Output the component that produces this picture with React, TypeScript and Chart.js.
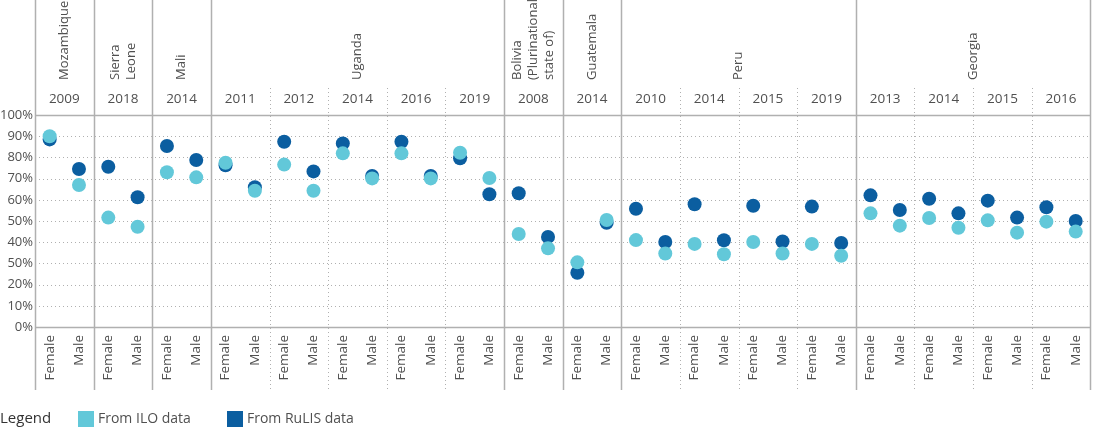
import React, { useEffect, useRef } from "react";
import { Chart, registerables } from "chart.js";

Chart.register(...registerables);

// ---- Data ----
const countryNames = [
  "Mozambique", "Sierra\nLeone", "Mali", "Uganda", "Uganda", "Uganda", "Uganda", "Uganda",
  "Bolivia\n(Plurinational\nstate of)", "Guatemala", "Peru", "Peru", "Peru", "Peru",
  "Georgia", "Georgia", "Georgia", "Georgia",
];
const years = [
  "2009", "2018", "2014", "2011", "2012", "2014", "2016", "2019",
  "2008", "2014", "2010", "2014", "2015", "2019", "2013", "2014", "2015", "2016",
];
const sexes = ["Female", "Male"];

const iloValues = [
  90, 67, 51.6, 47.3, 73, 70.6, 77.5, 64.3, 76.6, 64.3, 81.9, 70.1, 81.9, 70.1, 82.2, 70.3,
  43.9, 37.1, 30.5, 50.5, 41, 34.7, 39.2, 34.3, 40.1, 34.7, 39.2, 33.6,
  53.6, 47.8, 51.4, 46.8, 50.3, 44.5, 49.7, 45,
];
const rulisValues = [
  88.5, 74.5, 75.6, 61.2, 85.4, 78.8, 76.3, 65.9, 87.4, 73.4, 86.6, 71.2, 87.4, 71.2, 79.6, 62.6,
  63.1, 42.5, 25.6, 49.2, 55.8, 40.1, 57.9, 40.9, 57.2, 40.3, 56.8, 39.6,
  62.1, 55.2, 60.5, 53.6, 59.6, 51.6, 56.5, 50,
];

const yTickLabels = ["0%", "10%", "20%", "50%", "40%", "50%", "60%", "70%", "80%", "90%", "100%"];
const seriesNames = ["From ILO data", "From RuLIS data"];

// ---- Styles ----
const ILO_COLOR = "#62c8d9";
const RULIS_COLOR = "#0b5ea0";
const TEXT_COLOR = "#505050";
const LINE_COLOR = "#b0b0b0";
const FONT_FAMILY = "'Open Sans', 'Noto Sans', sans-serif";
const FONT_SIZE = 13;
const DOT_RADIUS = 7;

const categories = years.flatMap(() => sexes);

const decorPlugin = {
  id: "decor",
  beforeDatasetsDraw(chart: any) {
    const { ctx, chartArea, scales } = chart;
    const x = scales.x;
    const y = scales.y;
    const left = chartArea.left;
    const right = chartArea.right;
    const catW = x.getPixelForValue(1) - x.getPixelForValue(0);
    ctx.save();
    ctx.strokeStyle = LINE_COLOR;
    // horizontal grid lines
    for (let v = 0; v <= 100; v += 10) {
      const py = Math.round(y.getPixelForValue(v)) + 0.5;
      ctx.beginPath();
      if (v === 0 || v === 100) {
        ctx.setLineDash([]);
        ctx.lineWidth = 1.5;
      } else {
        ctx.setLineDash([1, 3]);
        ctx.lineWidth = 1;
      }
      ctx.moveTo(left, py);
      ctx.lineTo(right, py);
      ctx.stroke();
    }
    // vertical separators
    const nGroups = years.length;
    for (let g = 0; g <= nGroups; g++) {
      const px = Math.round(x.getPixelForValue(2 * g) - catW / 2) + 0.5;
      const solid = g === 0 || g === nGroups || countryNames[g] !== countryNames[g - 1];
      ctx.beginPath();
      if (solid) {
        ctx.setLineDash([]);
        ctx.lineWidth = 1.5;
        ctx.moveTo(px, 0);
      } else {
        ctx.setLineDash([1, 3]);
        ctx.lineWidth = 1;
        ctx.moveTo(px, 88);
      }
      ctx.lineTo(px, 390);
      ctx.stroke();
    }
    ctx.setLineDash([]);

    // header texts
    ctx.fillStyle = TEXT_COLOR;
    ctx.font = `${FONT_SIZE + 0.5}px ${FONT_FAMILY}`;
    ctx.textAlign = "center";
    ctx.textBaseline = "middle";
    for (let g = 0; g < nGroups; g++) {
      const cx = (x.getPixelForValue(2 * g) + x.getPixelForValue(2 * g + 1)) / 2;
      ctx.fillText(years[g], cx, 99);
    }
    // country spans
    ctx.font = `${FONT_SIZE}px ${FONT_FAMILY}`;
    let start = 0;
    for (let g = 1; g <= nGroups; g++) {
      if (g === nGroups || countryNames[g] !== countryNames[start]) {
        const x0 = x.getPixelForValue(2 * start) - catW / 2;
        const x1 = x.getPixelForValue(2 * (g - 1) + 1) + catW / 2;
        const cx = (x0 + x1) / 2;
        const lines = countryNames[start].split("\n");
        const spacing = 16;
        lines.forEach((line, i) => {
          const off = (i - (lines.length - 1) / 2) * spacing;
          ctx.save();
          ctx.translate(cx + off, 80);
          ctx.rotate(-Math.PI / 2);
          ctx.textAlign = "left";
          ctx.textBaseline = "middle";
          ctx.fillText(line, 0, 0);
          ctx.restore();
        });
        start = g;
      }
    }

    // legend
    ctx.textAlign = "left";
    ctx.textBaseline = "middle";
    ctx.fillStyle = "#333333";
    ctx.font = `15px ${FONT_FAMILY}`;
    ctx.fillText("Legend", 0, 419);
    ctx.font = `14px ${FONT_FAMILY}`;
    const items = [
      { label: seriesNames[0], color: ILO_COLOR, x: 78 },
      { label: seriesNames[1], color: RULIS_COLOR, x: 227 },
    ];
    items.forEach((it) => {
      ctx.fillStyle = it.color;
      ctx.fillRect(it.x, 411, 16, 16);
      ctx.fillStyle = TEXT_COLOR;
      ctx.fillText(it.label, it.x + 20, 419);
    });
    ctx.restore();
  },
};

export default function App() {
  const ref = useRef<HTMLCanvasElement | null>(null);
  useEffect(() => {
    if (!ref.current) return;
    const chart = new Chart(ref.current, {
      type: "line",
      data: {
        labels: categories,
        datasets: [
          {
            label: seriesNames[0],
            data: iloValues,
            showLine: false,
            pointRadius: DOT_RADIUS,
            pointHoverRadius: DOT_RADIUS,
            pointBackgroundColor: ILO_COLOR,
            pointBorderColor: ILO_COLOR,
            pointBorderWidth: 0,
            backgroundColor: ILO_COLOR,
            borderColor: ILO_COLOR,
          },
          {
            label: seriesNames[1],
            data: rulisValues,
            showLine: false,
            pointRadius: DOT_RADIUS,
            pointHoverRadius: DOT_RADIUS,
            pointBackgroundColor: RULIS_COLOR,
            pointBorderColor: RULIS_COLOR,
            pointBorderWidth: 0,
            backgroundColor: RULIS_COLOR,
            borderColor: RULIS_COLOR,
          },
        ],
      },
      options: {
        responsive: false,
        animation: false,
        devicePixelRatio: 1,
        layout: { padding: { top: 115, right: 1, left: 0, bottom: 0 } },
        plugins: {
          legend: { display: false },
          tooltip: { enabled: false },
        },
        scales: {
          x: {
            type: "category",
            offset: true,
            grid: { display: false, drawTicks: false },
            border: { display: false },
            ticks: {
              maxRotation: 90,
              minRotation: 90,
              autoSkip: false,
              padding: 8,
              color: TEXT_COLOR,
              font: { family: FONT_FAMILY, size: FONT_SIZE + 0.5 },
            },
            afterFit: (s: any) => {
              s.height = 102;
            },
          },
          y: {
            min: 0,
            max: 100,
            grid: { display: false, drawTicks: false },
            border: { display: false },
            ticks: {
              stepSize: 10,
              padding: 2,
              color: TEXT_COLOR,
              font: { family: FONT_FAMILY, size: FONT_SIZE },
              callback: (v: any) => yTickLabels[Math.round(Number(v) / 10)],
            },
            afterFit: (s: any) => {
              s.width = 35;
            },
          },
        },
      },
      plugins: [decorPlugin],
    } as any);
    return () => chart.destroy();
  }, []);
  return (
    <div style={{ position: "absolute", left: 0, top: 0, width: 1100, height: 429 }}>
      <canvas ref={ref} width={1100} height={429} style={{ display: "block", width: 1100, height: 429 }} />
    </div>
  );
}
